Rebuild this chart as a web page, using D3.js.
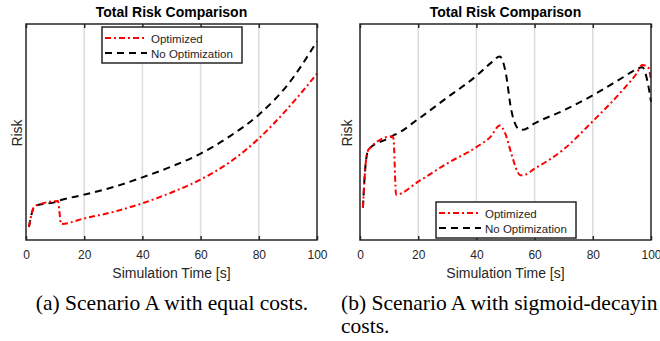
<!DOCTYPE html>
<html>
<head>
<meta charset="utf-8">
<script src="https://cdn.jsdelivr.net/npm/d3@7"></script>
<style>
  body { margin: 0; background: #fff; overflow: hidden; }
  svg { display: block; }
</style>
</head>
<body>
<div id="chart"></div>
<script>
// Panel (a): equal costs
var timeA = [1, 3, 11, 11.5, 12, 20, 30, 40, 50, 60, 70, 80, 90, 100];
var optA = [0.06, 0.157, 0.18, 0.13, 0.074, 0.10, 0.13, 0.17, 0.22, 0.28, 0.36, 0.47, 0.61, 0.77];
var noOptA = [0.06, 0.157, 0.18, 0.183, 0.185, 0.21, 0.245, 0.29, 0.34, 0.40, 0.48, 0.58, 0.72, 0.92];

// Panel (b): sigmoid-decaying costs
var timeB = [1, 2, 3, 11, 11.5, 12.4, 20, 30, 40, 45, 48, 50, 52, 54, 55, 56, 60, 70, 80, 90, 95, 97, 99, 100];
var optB = [0.15, 0.36, 0.42, 0.48, 0.47, 0.21, 0.27, 0.355, 0.43, 0.48, 0.53, 0.49, 0.40, 0.32, 0.30, 0.30, 0.33, 0.42, 0.55, 0.69, 0.77, 0.81, 0.80, 0.74];
var noOptB = [0.15, 0.36, 0.42, 0.48, 0.485, 0.49, 0.56, 0.66, 0.76, 0.82, 0.85, 0.78, 0.60, 0.52, 0.51, 0.51, 0.54, 0.60, 0.67, 0.75, 0.79, 0.80, 0.72, 0.64];

var xTicks = [0, 20, 40, 60, 80, 100];
var seriesNames = ['Optimized', 'No Optimization'];
var captionA = ['(a) Scenario A with equal costs.'];
var captionB = ['(b) Scenario A with sigmoid-decayin', 'costs.'];

var width = 660, height = 341;
var sans = '"Liberation Sans", Arial, Helvetica, sans-serif';
var serif = '"Liberation Serif", "Times New Roman", serif';
var axisColor = '#262626';

var svg = d3.select('#chart')
  .append('svg')
  .attr('width', width)
  .attr('height', height);

function drawPanel(left, right, time, opt, noOpt, legend, caption, captionX, captionAnchor, riskX) {
  var top = 24, bottom = 240;
  var x = d3.scaleLinear().domain([0, 100]).range([left, right]);
  var y = d3.scaleLinear().domain([0, 1]).range([bottom, top]);
  var g = svg.append('g');

  // grid
  g.selectAll('.grid')
    .data(xTicks.slice(1, -1))
    .enter()
    .append('line')
    .attr('x1', function (d) { return x(d); })
    .attr('x2', function (d) { return x(d); })
    .attr('y1', top)
    .attr('y2', bottom)
    .attr('stroke', '#dcdcdc')
    .attr('stroke-width', 1.5);

  var line = d3.line()
    .x(function (d, i) { return x(time[i]); })
    .y(function (d) { return y(d); })
    .curve(d3.curveMonotoneX);

  g.append('path')
    .attr('d', line(noOpt))
    .attr('fill', 'none')
    .attr('stroke', '#000')
    .attr('stroke-width', 2)
    .attr('stroke-dasharray', '7,5');

  g.append('path')
    .attr('d', line(opt))
    .attr('fill', 'none')
    .attr('stroke', '#ff0000')
    .attr('stroke-width', 2)
    .attr('stroke-dasharray', '6,3,2,3');

  // axes box
  g.append('rect')
    .attr('x', left)
    .attr('y', top)
    .attr('width', right - left)
    .attr('height', bottom - top)
    .attr('fill', 'none')
    .attr('stroke', axisColor)
    .attr('stroke-width', 1.5);

  var ax = g.append('g')
    .attr('transform', 'translate(0,' + bottom + ')')
    .call(d3.axisBottom(x).tickValues(xTicks).tickSize(-4).tickPadding(10));
  ax.select('.domain').remove();
  ax.selectAll('line').attr('stroke', axisColor).attr('stroke-width', 1.5);
  ax.selectAll('text')
    .attr('font-family', sans)
    .attr('font-size', 12)
    .attr('fill', axisColor);

  var axTop = g.append('g')
    .attr('transform', 'translate(0,' + top + ')')
    .call(d3.axisTop(x).tickValues(xTicks).tickSize(-4).tickFormat(''));
  axTop.select('.domain').remove();
  axTop.selectAll('line').attr('stroke', axisColor).attr('stroke-width', 1.5);

  g.append('text')
    .attr('x', (left + right) / 2)
    .attr('y', 17)
    .attr('text-anchor', 'middle')
    .attr('font-family', sans)
    .attr('font-weight', 'bold')
    .attr('font-size', 14)
    .attr('fill', '#000')
    .text('Total Risk Comparison');

  g.append('text')
    .attr('x', (left + right) / 2)
    .attr('y', 278)
    .attr('text-anchor', 'middle')
    .attr('font-family', sans)
    .attr('font-size', 14)
    .attr('fill', axisColor)
    .text('Simulation Time [s]');

  g.append('text')
    .attr('transform', 'translate(' + riskX + ',' + 133 + ') rotate(-90)')
    .attr('text-anchor', 'middle')
    .attr('font-family', sans)
    .attr('font-size', 14)
    .attr('fill', axisColor)
    .text('Risk');

  // legend
  var lg = g.append('g');
  lg.append('rect')
    .attr('x', legend.x)
    .attr('y', legend.y)
    .attr('width', legend.w)
    .attr('height', 36)
    .attr('fill', '#fff')
    .attr('stroke', axisColor)
    .attr('stroke-width', 1.5);
  var styles = [
    { color: '#ff0000', dash: '6,3,2,3' },
    { color: '#000', dash: '7,5' }
  ];
  seriesNames.forEach(function (name, i) {
    var cy = legend.y + 11 + i * 15;
    lg.append('line')
      .attr('x1', legend.x + 3)
      .attr('x2', legend.x + 45)
      .attr('y1', cy)
      .attr('y2', cy)
      .attr('stroke', styles[i].color)
      .attr('stroke-width', 2)
      .attr('stroke-dasharray', styles[i].dash);
    lg.append('text')
      .attr('x', legend.x + 49)
      .attr('y', cy + 4.5)
      .attr('font-family', sans)
      .attr('font-size', 11.5)
      .attr('fill', axisColor)
      .text(name);
  });

  caption.forEach(function (line, i) {
    g.append('text')
      .attr('x', captionX)
      .attr('y', 310 + i * 23)
      .attr('text-anchor', captionAnchor)
      .attr('font-family', serif)
      .attr('font-size', 21.5)
      .attr('fill', '#000')
      .text(line);
  });
}

drawPanel(26, 317, timeA, optA, noOptA, { x: 102, y: 27, w: 140 }, captionA, 172, 'middle', 22);
drawPanel(360, 651, timeB, optB, noOptB, { x: 436, y: 202, w: 140 }, captionB, 341, 'start', 352);
</script>
</body>
</html>
